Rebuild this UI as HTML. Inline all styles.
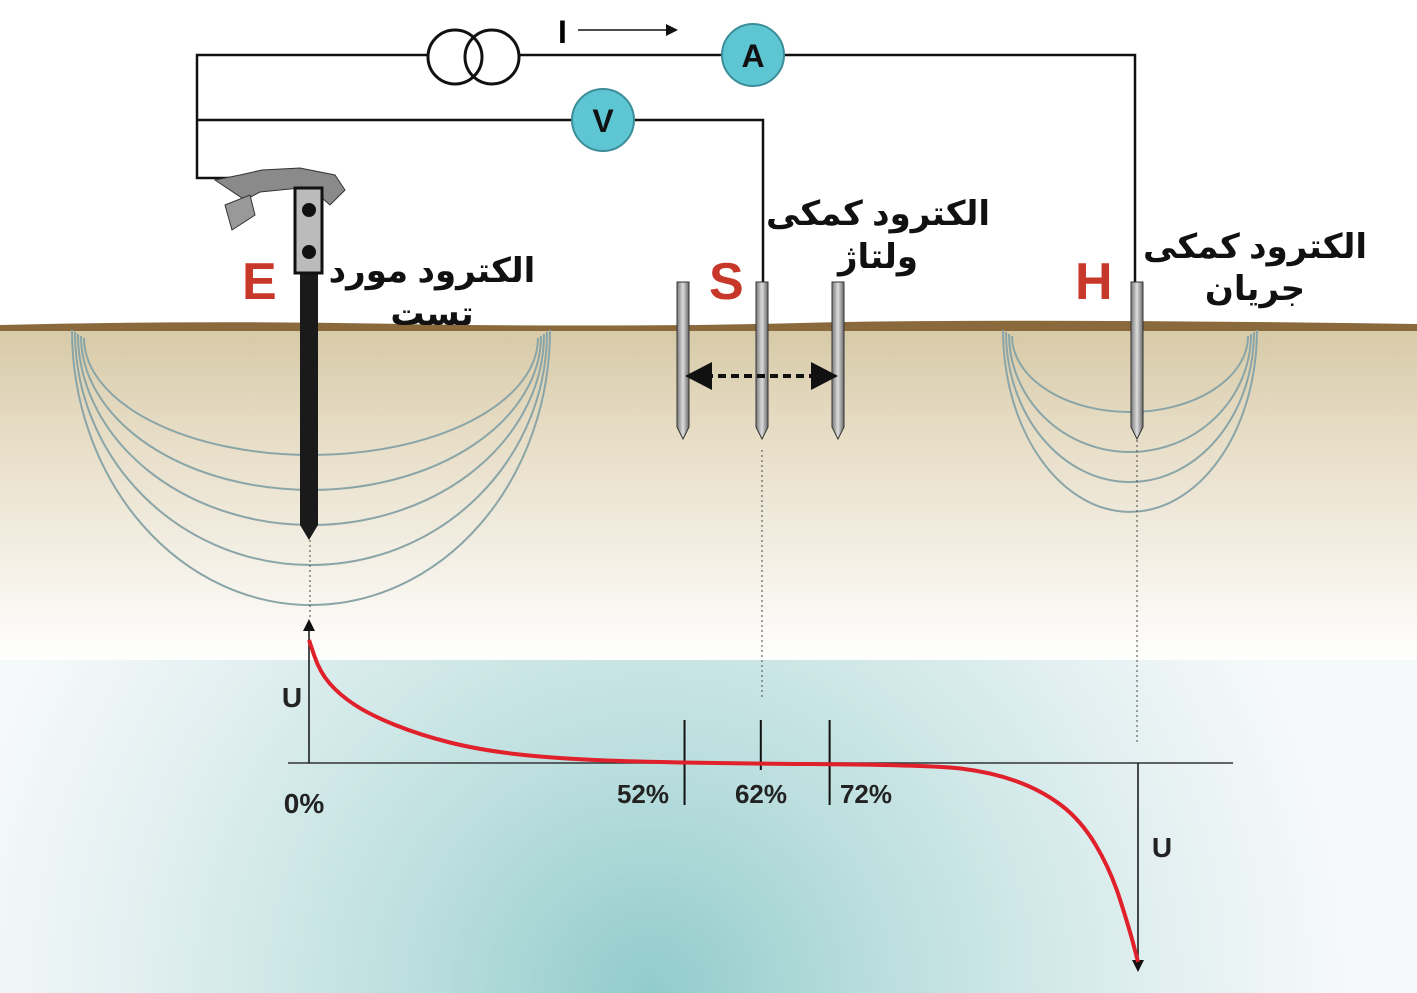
<!DOCTYPE html>
<html><head><meta charset="utf-8"><style>
html,body{margin:0;padding:0;background:#fff}
svg{display:block}
text{font-family:"Liberation Sans","DejaVu Sans",sans-serif;font-weight:bold}
</style></head><body>
<svg id="s" width="1417" height="993" viewBox="0 0 1417 993">
<defs>
<linearGradient id="soil" x1="0" y1="0" x2="0" y2="1">
<stop offset="0" stop-color="#d6c9a6"/><stop offset="0.3" stop-color="#e6dcc4"/><stop offset="0.7" stop-color="#f4f0e6"/><stop offset="1" stop-color="#ffffff"/></linearGradient>
<radialGradient id="water" cx="650" cy="993" r="700" gradientUnits="userSpaceOnUse">
<stop offset="0" stop-color="#92cbcb"/><stop offset="0.35" stop-color="#bddfdf"/><stop offset="0.75" stop-color="#e3f0f1"/><stop offset="1" stop-color="#f6f9fa"/></radialGradient>
<linearGradient id="rod" x1="0" x2="1"><stop offset="0" stop-color="#777"/><stop offset="0.5" stop-color="#ddd"/><stop offset="1" stop-color="#666"/></linearGradient>
<marker id="ah" markerWidth="8" markerHeight="8" refX="4" refY="4" orient="auto"><path d="M0,0 L8,4 L0,8z" fill="#111"/></marker>
</defs>
<rect x="0" y="325" width="1417" height="340" fill="url(#soil)"/>
<path d="M0,325 Q200,320 400,324 T800,323 T1417,324 L1417,331 L0,331z" fill="#8a6a3c"/>
<rect x="0" y="660" width="1417" height="333" fill="url(#water)"/>

<g fill="none" stroke="#8aa5a8" stroke-width="2">
<path d="M72,330 A239,275 0 0 0 550,330"/><path d="M75,332 A236,233 0 0 0 547,332"/><path d="M78,334 A233,191 0 0 0 544,334"/><path d="M81,336 A230,154 0 0 0 541,336"/><path d="M84,338 A227,117 0 0 0 538,338"/>
</g>
<g fill="none" stroke="#8aa5a8" stroke-width="2">
<path d="M1003,330 A127,182 0 0 0 1257,330"/><path d="M1006,332 A124,150 0 0 0 1254,332"/><path d="M1009,334 A121,118 0 0 0 1251,334"/><path d="M1012,336 A118,76 0 0 0 1248,336"/>
</g>

<g stroke="#444" stroke-width="1" stroke-dasharray="2,3">
<line x1="310" y1="535" x2="310" y2="618"/><line x1="762" y1="450" x2="762" y2="700"/><line x1="1137" y1="440" x2="1137" y2="745"/>
</g>

<g stroke="#111" stroke-width="2.5" fill="none">
<polyline points="230,178 197,178 197,55 427,55"/><polyline points="520,55 722,55"/><polyline points="784,55 1135,55 1135,285"/>
<polyline points="197,120 572,120"/><polyline points="634,120 763,120 763,285"/>
</g>
<g fill="#fff" stroke="#111" stroke-width="3"><circle cx="455" cy="57" r="27"/><circle cx="492" cy="57" r="27" fill="none"/></g>
<text x="558" y="43" font-size="32">I</text>
<line x1="578" y1="30" x2="672" y2="30" stroke="#111" stroke-width="1.5" marker-end="url(#ah)"/>
<circle cx="753" cy="55" r="31" fill="#5ec5d2" stroke="#3b8d99" stroke-width="2"/>
<text x="753" y="67" font-size="32" text-anchor="middle" fill="#111">A</text>
<circle cx="603" cy="120" r="31" fill="#5ec5d2" stroke="#3b8d99" stroke-width="2"/>
<text x="603" y="132" font-size="32" text-anchor="middle" fill="#111" font-weight="normal">V</text>

<g>
<path d="M215,180 L240,175 L262,170 L300,168 L335,175 L345,190 L330,205 L322,198 L300,188 L260,192 L245,200 Z" fill="#8a8a8a" stroke="#333"/>
<path d="M225,205 L250,195 L255,215 L232,230 Z" fill="#999" stroke="#333"/>
<rect x="300" y="270" width="18" height="255" fill="#1a1a1a"/><path d="M300,525 L318,525 L309,540Z" fill="#1a1a1a"/>
<rect x="295" y="188" width="27" height="85" fill="#bbb" stroke="#111" stroke-width="3"/>
<circle cx="309" cy="210" r="7" fill="#111"/><circle cx="309" cy="252" r="7" fill="#111"/>
</g>
<g>
<path d="M677,282 h12 v145 l-6,12 l-6,-12z" fill="url(#rod)" stroke="#333"/>
<path d="M756,282 h12 v145 l-6,12 l-6,-12z" fill="url(#rod)" stroke="#333"/>
<path d="M832,282 h12 v145 l-6,12 l-6,-12z" fill="url(#rod)" stroke="#333"/>
<path d="M1131,282 h12 v145 l-6,12 l-6,-12z" fill="url(#rod)" stroke="#333"/>
</g>
<line x1="705" y1="376" x2="818" y2="376" stroke="#111" stroke-width="4" stroke-dasharray="8,5"/>
<path d="M685,376 L712,362 L712,390Z M838,376 L811,362 L811,390Z" fill="#111"/>

<g fill="#c8382a" font-size="52">
<text x="242" y="299">E</text><text x="709" y="299">S</text><text x="1075" y="299">H</text></g>
<g font-family="'Liberation Sans','DejaVu Sans',sans-serif" font-size="34" fill="#111" text-anchor="middle">
<text x="432" y="282">الکترود مورد</text>
<text x="432" y="325">تست</text>
<text x="878" y="225">الکترود کمکی</text>
<text x="878" y="268">ولتاژ</text>
<text x="1255" y="258">الکترود کمکی</text>
<text x="1255" y="300">جریان</text>
</g>
<g id="chart"></g>
</svg>
<script>
// distance (% of E–H) and potential values
const distances=[0,1.3,3.7,7.4,13.4,20.6,30.2,45.3,75,82.2,88.3,93.1,96.7,99.0,100];
const potentials=[123,91,68,48,28,13,4,0,-2,-9,-27,-57,-107,-167,-199];
const tickPcts=[52,62,72];
const tickDist=[45.3,54.5,62.8];
const tickLabels=["52%","62%","72%"];
const NS="http://www.w3.org/2000/svg";
const g=document.getElementById('chart');
const x0=309,x1=1138,yBase=763;
const xS=d=>x0+d/100*(x1-x0);
const yS=u=>yBase-u;
function mk(t,a){const e=document.createElementNS(NS,t);for(const k in a)e.setAttribute(k,a[k]);g.appendChild(e);return e;}
let e=mk('line',{x1:288,y1:yBase,x2:1233,y2:yBase,stroke:'#333','stroke-width':1.5});


e=mk('line',{x1:xS(0),y1:yBase,x2:xS(0),y2:625,stroke:'#111','stroke-width':1.5,'marker-end':'url(#ah)'});


e=mk('line',{x1:xS(100),y1:yBase,x2:xS(100),y2:966,stroke:'#111','stroke-width':1.5,'marker-end':'url(#ah)'});


tickDist.forEach((d,i)=>{
  const x=xS(d);
  const t=mk('line',{x1:x,y1:720,x2:x,y2:i===1?770:805,stroke:'#111','stroke-width':2});
  
  
});
const lx=[643,761,866];
tickLabels.forEach((s,i)=>{
  const t=mk('text',{x:lx[i],y:803,'font-size':26,'text-anchor':'middle',fill:'#222'});
  t.textContent=s;
  
  
});
e=mk('text',{x:304,y:813,'font-size':28,'text-anchor':'middle',fill:'#222'});e.textContent='0%';


e=mk('text',{x:292,y:707,'font-size':28,'text-anchor':'middle',fill:'#222'});e.textContent='U';


e=mk('text',{x:1162,y:857,'font-size':28,'text-anchor':'middle',fill:'#222'});e.textContent='U';


const pts=distances.map((d,i)=>[xS(d),yS(potentials[i])]);
let dstr='M'+pts[0][0]+','+pts[0][1];
for(let i=1;i<pts.length;i++){const p=pts[i-1],q=pts[i];dstr+=' Q'+p[0]+','+p[1]+' '+((p[0]+q[0])/2)+','+((p[1]+q[1])/2);}
dstr+=' L'+pts[pts.length-1][0]+','+pts[pts.length-1][1];
e=mk('path',{d:dstr,fill:'none',stroke:'#e0202a','stroke-width':4});


</script>
</body></html>
